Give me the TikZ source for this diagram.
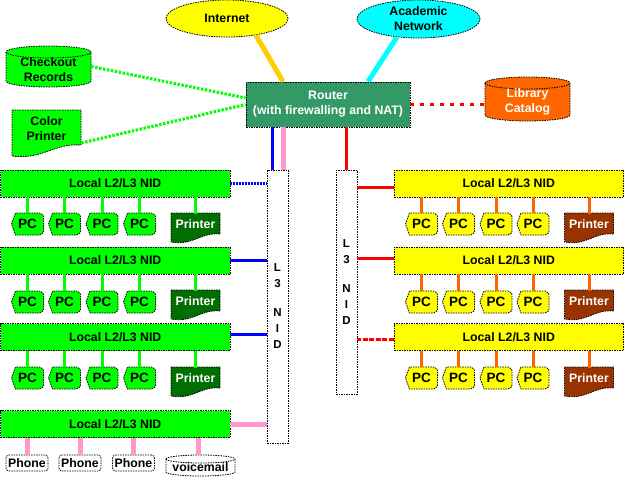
\documentclass[tikz,border=0pt]{standalone}
\usepackage{fontspec}
\setmainfont{Liberation Sans}
\usetikzlibrary{shapes.geometric}
\definecolor{cGreen}{RGB}{0,255,0}
\definecolor{cDkGreen}{RGB}{0,110,0}
\definecolor{cBrown}{RGB}{153,51,0}
\definecolor{cRouter}{RGB}{51,153,102}
\definecolor{cOrange}{RGB}{255,102,0}
\definecolor{cGold}{RGB}{255,204,0}
\definecolor{cCyan}{RGB}{0,255,255}
\definecolor{cBlue}{RGB}{0,0,255}
\definecolor{cPink}{RGB}{255,153,204}
\definecolor{cRed}{RGB}{255,0,0}
\definecolor{cYellow}{RGB}{255,255,0}
\tikzset{
  bord/.style={draw=black, dash pattern=on 1.5pt off 1pt, line width=0.8pt},
  lbl/.style={font=\fontsize{12.3}{15}\selectfont\bfseries, align=center, inner sep=0pt},
  nid/.style={bord, lbl, minimum width=229.5pt, minimum height=27pt},
  pcn/.style={lbl, font=\fontsize{13.5}{15}\selectfont\bfseries, minimum width=32pt, minimum height=22pt},
  l3box/.style={bord, fill=white, minimum width=21pt, lbl, font=\fontsize{11.5}{16}\selectfont\bfseries},
  phonebox/.style={bord, rounded corners=3pt, fill=white, minimum width=42pt, minimum height=16pt, lbl},
  gconn/.style={cGreen, line width=3pt},
  oconn/.style={cOrange, line width=3pt},
  pconn/.style={cPink, line width=5pt},
  bconn/.style={cBlue, line width=3pt},
  rconn/.style={cRed, line width=3pt},
}
% PC display shape
\newcommand\mypc[4]{%
  \filldraw[bord, fill=#4] ({#2-16},{#3}) -- ({#2-12},{#3-11}) -- ({#2+12},{#3-11})
    .. controls ({#2+16},{#3-9}) .. ({#2+16},{#3-5}) -- ({#2+16},{#3+5})
    .. controls ({#2+16},{#3+9}) .. ({#2+12},{#3+11}) -- ({#2-12},{#3+11}) -- cycle;
  \node[pcn] (#1) at (#2,#3) {PC};}
% document shape: name, cx, top, w, h(right side), dip, fill, text
\newcommand\mydoc[8]{%
  \filldraw[bord, fill=#7] ({#2-#4/2},{#3}) -- ({#2+#4/2},{#3}) -- ({#2+#4/2},{#3+#5})
    .. controls ({#2+#4/2-#4*0.4},{#3+#5-2}) and ({#2-#4/2+#4*0.45},{#3+#5+#6+4}) .. ({#2-#4/2},{#3+#5+#6}) -- cycle;
  \node[lbl, minimum width=#4pt, minimum height=#5pt] (#1) at (#2,{#3+#5/2+1}) {#8};}
% cylinder: name, cx, cy, w, h, ry, fill, text, text dy
\newcommand\mycyl[9]{%
  \filldraw[bord, fill=#7] ({#2-#4/2},{#3-#5/2+#6}) -- ({#2-#4/2},{#3+#5/2-#6})
    arc[start angle=180, end angle=0, x radius={#4/2}, y radius=#6]
    -- ({#2+#4/2},{#3-#5/2+#6})
    arc[start angle=0, end angle=-180, x radius={#4/2}, y radius=#6] -- cycle;
  \draw[bord] ({#2-#4/2},{#3-#5/2+#6}) arc[start angle=180, end angle=0, x radius={#4/2}, y radius=#6];
  \node[inner sep=0pt, minimum width=#4pt, minimum height=#5pt] (#1) at (#2,#3) {};
  \node[lbl] (#1-t) at (#2,{#3+#9}) {#8};}

\begin{document}
\begin{tikzpicture}[x=1pt,y=-1pt]
\useasboundingbox (0,0) rectangle (624,477);

% top clouds
\node[ellipse, bord, fill=cYellow, minimum width=122pt, minimum height=37pt, lbl] (inet) at (227,18.5) {Internet};
\node[ellipse, bord, fill=cCyan, minimum width=123pt, minimum height=38pt, lbl] (acad) at (418.5,19) {Academic\\Network};

% router
\node[bord, fill=cRouter, minimum width=164pt, minimum height=45pt, lbl, text=white] (router) at (328,104.5) {Router\\(with firewalling and NAT)};

% side resources
\mycyl{chk}{48.5}{66.5}{85}{41}{6}{cGreen}{Checkout\\Records}{3.5}
\mydoc{cprn}{46.5}{110}{69}{35}{11}{cGreen}{Color\\Printer}
\mycyl{lib}{527.5}{99}{85}{44}{6}{cOrange}{\color{white}Library\\\color{white}Catalog}{3}

% L3 NIDs
\node[l3box, minimum height=273pt] (l3l) at (277.5,306.5) {L\\3\\[13pt]N\\I\\D};
\node[l3box, minimum height=224pt] (l3r) at (346.5,282) {L\\3\\[13pt]N\\I\\D};

% left local NIDs
\node[nid, fill=cGreen] (nidL1) at (115.25,183.5) {Local L2/L3 NID};
\node[nid, fill=cGreen] (nidL2) at (115.25,260.5) {Local L2/L3 NID};
\node[nid, fill=cGreen] (nidL3) at (115.25,337) {Local L2/L3 NID};
\node[nid, fill=cGreen] (nidL4) at (115.25,424) {Local L2/L3 NID};

% right local NIDs
\node[nid, fill=cYellow] (nidR1) at (508.75,183.5) {Local L2/L3 NID};
\node[nid, fill=cYellow] (nidR2) at (508.75,260.5) {Local L2/L3 NID};
\node[nid, fill=cYellow] (nidR3) at (508.75,337) {Local L2/L3 NID};

% PCs and printers
\foreach \r/\y/\t in {1/224/213, 2/302/290, 3/378/367} {
  \foreach \i/\x in {a/27.5, b/64.5, c/102, d/139.5} {\mypc{pcL\r\i}{\x}{\y}{cGreen}}
  \foreach \i/\x in {a/421.5, b/458.5, c/496, d/533} {\mypc{pcR\r\i}{\x}{\y}{cYellow}}
  \mydoc{prL\r}{195.5}{\t}{49}{21}{8}{cDkGreen}{\color{white}Printer}
  \mydoc{prR\r}{589}{\t}{49}{21}{8}{cBrown}{\color{white}Printer}
}

% phones
\node[phonebox] (ph1) at (27,463) {Phone};
\node[phonebox] (ph2) at (80,463) {Phone};
\node[phonebox] (ph3) at (133.5,463) {Phone};
\mycyl{vm}{200.5}{465.5}{69}{21}{4}{white}{voicemail}{1.5}

% ---- connectors ----
\draw[cGold, line width=5pt] (inet.-30) -- ([xshift=-45pt]router.north);
\draw[cCyan, line width=5pt] (acad.-140) -- ([xshift=40pt]router.north);
\draw[cGreen, line width=3pt, dash pattern=on 2.5pt off 1.5pt] (chk.east) -- ([yshift=6.5pt]router.west);
\draw[cGreen, line width=3pt, dash pattern=on 2.5pt off 1.5pt] ([yshift=-14.5pt]cprn.east) -- (router.west);
\draw[rconn, dash pattern=on 4pt off 6pt] (router.east) -- (router.east -| lib.west);

\draw[bconn] ([xshift=-5.5pt]l3l.north) -- ([xshift=-5.5pt]l3l.north |- router.south);
\draw[pconn] ([xshift=5.5pt]l3l.north) -- ([xshift=5.5pt]l3l.north |- router.south);
\draw[rconn] (l3r.north) -- (l3r.north |- router.south);

\draw[bconn, dash pattern=on 2pt off 1pt] (nidL1.east) -- (nidL1.east -| l3l.west);
\draw[bconn] (nidL2.east) -- (nidL2.east -| l3l.west);
\draw[bconn] ([yshift=3pt]nidL3.east) -- ([yshift=3pt]nidL3.east -| l3l.west);
\draw[pconn] (nidL4.east) -- (nidL4.east -| l3l.west);

\draw[rconn] ([yshift=-3.5pt]nidR1.west) -- ([yshift=-3.5pt]nidR1.west -| l3r.east);
\draw[rconn] ([yshift=2.5pt]nidR2.west) -- ([yshift=2.5pt]nidR2.west -| l3r.east);
\draw[rconn, dash pattern=on 5pt off 1.5pt] ([yshift=-2pt]nidR3.west) -- ([yshift=-2pt]nidR3.west -| l3r.east);

\foreach \r in {1,2,3} {
  \foreach \i in {a,b,c,d} {
    \draw[gconn] (pcL\r\i.north) -- (pcL\r\i.north |- nidL\r.south);
    \draw[oconn] (pcR\r\i.north) -- (pcR\r\i.north |- nidR\r.south);
  }
  \draw[gconn] (prL\r.north) -- (prL\r.north |- nidL\r.south);
  \draw[oconn] (prR\r.north) -- (prR\r.north |- nidR\r.south);
}

\foreach \p in {ph1,ph2,ph3} {\draw[pconn] (\p.north) -- (\p.north |- nidL4.south);}
\draw[pconn] ([xshift=-2.5pt]vm.north) -- ([xshift=-2.5pt]vm.north |- nidL4.south);
\end{tikzpicture}
\end{document}
